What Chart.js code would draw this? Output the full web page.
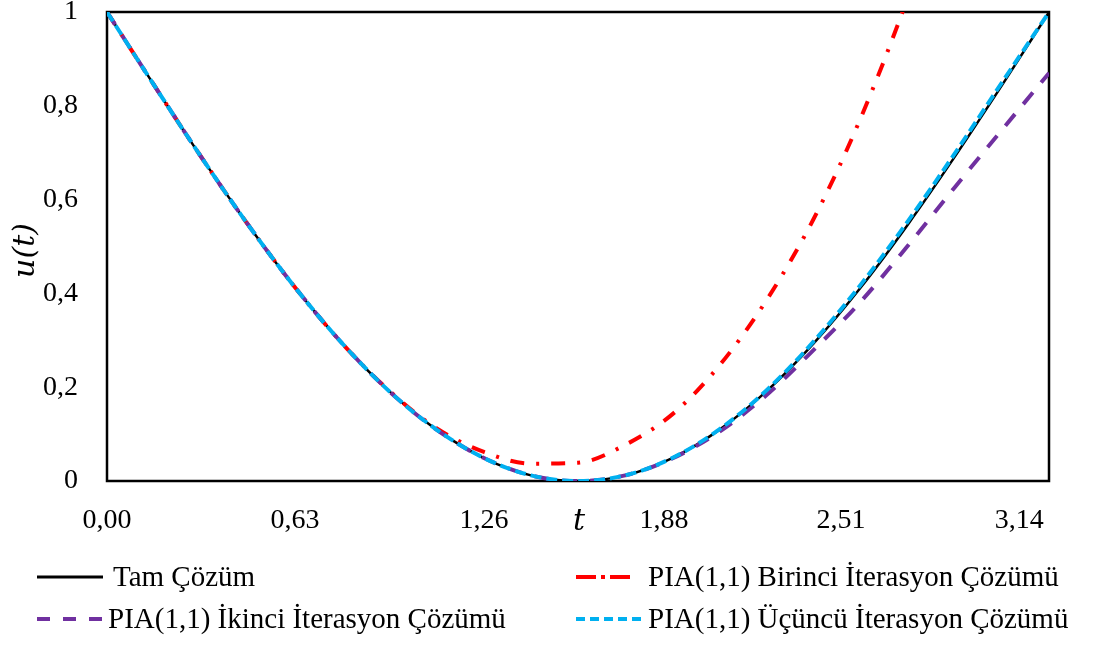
<!DOCTYPE html>
<html>
<head>
<meta charset="utf-8">
<script src="https://cdn.jsdelivr.net/npm/chart.js@4.4.1/dist/chart.umd.min.js"></script>
<style>
  html, body { margin: 0; padding: 0; background: #fff; }
  #wrap { width: 1096px; height: 645px; position: relative; }
</style>
</head>
<body>
<div id="wrap"><canvas id="grafik"></canvas></div>
<script>
// t degerleri (0 .. pi)
const tDegerleri = [0, 0.157, 0.314, 0.471, 0.628, 0.785, 0.942, 1.100, 1.257, 1.414, 1.571,
    1.728, 1.885, 2.042, 2.199, 2.356, 2.513, 2.670, 2.827, 2.985, 3.142];

const tamCozum = [1, 0.844, 0.691, 0.546, 0.412, 0.293, 0.191, 0.109, 0.049, 0.012, 0,
    0.012, 0.049, 0.109, 0.191, 0.293, 0.412, 0.546, 0.691, 0.844, 1];
const birinciIterasyon = [1, 0.844, 0.691, 0.546, 0.412, 0.293, 0.192, 0.112, 0.062, 0.037, 0.039,
    0.077, 0.142, 0.246, 0.385, 0.558, 0.773, 1.03, 1.33, 1.65, 2.0];
const ikinciIterasyon = [1, 0.844, 0.691, 0.546, 0.412, 0.293, 0.191, 0.109, 0.049, 0.012, 0,
    0.012, 0.048, 0.105, 0.183, 0.279, 0.382, 0.501, 0.626, 0.749, 0.870];
const ucuncuIterasyon = [1, 0.844, 0.691, 0.546, 0.412, 0.293, 0.191, 0.109, 0.049, 0.012, 0,
    0.012, 0.049, 0.110, 0.193, 0.297, 0.418, 0.553, 0.698, 0.850, 1];

// eksen etiketleri (resimde gorundukleri yerlerde)
const xEtiketDegerleri = [0, 0.627, 1.257, 1.858, 2.448, 3.042];
const xEtiketleri = ["0,00", "0,63", "1,26", "1,88", "2,51", "3,14"];
const yEtiketDegerleri = [0, 0.2, 0.4, 0.6, 0.8, 1];
const yEtiketleri = ["0", "0,2", "0,4", "0,6", "0,8", "1"];

const seriAdlari = ["Tam Çözüm", "PIA(1,1) Birinci İterasyon Çözümü",
    "PIA(1,1) İkinci İterasyon Çözümü", "PIA(1,1) Üçüncü İterasyon Çözümü"];

function noktalar(seri) {
    return tDegerleri.map(function (t, i) { return { x: t, y: seri[i] }; });
}

const stiller = [
    { renk: "#000000", kalinlik: 2.5, kesik: [], lejantKesik: [], sira: 4 },
    { renk: "#FF0000", kalinlik: 4, kesik: [14, 12, 3, 12], lejantKesik: [20, 5, 4, 5], sira: 3 },
    { renk: "#7030A0", kalinlik: 4, kesik: [15, 13], lejantKesik: [13, 13], sira: 2 },
    { renk: "#00B0F0", kalinlik: 4, kesik: [11, 5], lejantKesik: [9, 5], sira: 1 }
];

const seriler = [tamCozum, birinciIterasyon, ikinciIterasyon, ucuncuIterasyon];

const cerceveVeYazilar = {
    id: "cerceveVeYazilar",
    beforeDatasetsDraw(chart) {
        const ctx = chart.ctx;
        const a = chart.chartArea;
        ctx.save();
        ctx.strokeStyle = "#000";
        ctx.lineWidth = 2.5;
        ctx.strokeRect(a.left, a.top, a.right - a.left, a.bottom - a.top);
        ctx.restore();
    },
    afterDraw(chart) {
        const ctx = chart.ctx;
        const a = chart.chartArea;
        ctx.save();
        // eksen basliklari
        ctx.fillStyle = "#000";
        ctx.font = "italic 30px 'DejaVu Serif'";
        ctx.textAlign = "center";
        ctx.textBaseline = "middle";
        ctx.fillText("t", (a.left + a.right) / 2 + 1, 522);
        ctx.translate(26, (a.top + a.bottom) / 2 + 4);
        ctx.rotate(-Math.PI / 2);
        ctx.fillText("u(t)", 0, 0);
        ctx.restore();

        // lejant
        const yerler = [
            { x1: 37, x2: 103, tx: 113, y: 577 },
            { x1: 576, x2: 632, tx: 648, y: 577 },
            { x1: 37, x2: 103, tx: 108, y: 619 },
            { x1: 576, x2: 643, tx: 648, y: 619 }
        ];
        ctx.save();
        ctx.font = "29px 'Liberation Serif'";
        ctx.textAlign = "left";
        ctx.textBaseline = "middle";
        chart.data.datasets.forEach(function (ds, i) {
            const p = yerler[i];
            ctx.beginPath();
            ctx.strokeStyle = ds.borderColor;
            ctx.lineWidth = i === 0 ? 3 : 4;
            ctx.lineCap = "butt";
            ctx.setLineDash(stiller[i].lejantKesik);
            ctx.moveTo(p.x1, p.y);
            ctx.lineTo(p.x2, p.y);
            ctx.stroke();
            ctx.setLineDash([]);
            ctx.fillStyle = "#000";
            ctx.fillText(ds.label, p.tx, p.y + 1);
        });
        ctx.restore();
    }
};

new Chart(document.getElementById("grafik").getContext("2d"), {
    type: "line",
    data: {
        datasets: seriler.map(function (s, i) {
            return {
                label: seriAdlari[i],
                data: noktalar(s),
                borderColor: stiller[i].renk,
                borderWidth: stiller[i].kalinlik,
                borderDash: stiller[i].kesik,
                order: stiller[i].sira,
                pointRadius: 0,
                fill: false,
                cubicInterpolationMode: "monotone"
            };
        })
    },
    options: {
        responsive: true,
        maintainAspectRatio: false,
        animation: false,
        layout: { padding: { left: 0, right: 47, top: 12, bottom: 0 } },
        plugins: {
            legend: { display: false },
            tooltip: { enabled: false }
        },
        scales: {
            x: {
                type: "linear",
                min: 0,
                max: 3.1416,
                grid: { display: false, drawTicks: false },
                border: { display: false },
                afterBuildTicks: function (scale) {
                    scale.ticks = xEtiketDegerleri.map(function (v) { return { value: v }; });
                },
                afterFit: function (scale) {
                    scale.height = 164;
                    scale.paddingLeft = 0;
                    scale.paddingRight = 0;
                },
                ticks: {
                    autoSkip: false,
                    maxRotation: 0,
                    padding: 23,
                    color: "#000",
                    font: { family: "'Liberation Serif'", size: 28 },
                    callback: function (v, i) { return xEtiketleri[i]; }
                }
            },
            y: {
                min: 0,
                max: 1,
                grid: { display: false, drawTicks: false },
                border: { display: false },
                afterBuildTicks: function (scale) {
                    scale.ticks = yEtiketDegerleri.map(function (v) { return { value: v }; });
                },
                afterFit: function (scale) {
                    scale.width = 107;
                    scale.paddingTop = 0;
                    scale.paddingBottom = 0;
                },
                ticks: {
                    padding: 29,
                    color: "#000",
                    font: { family: "'Liberation Serif'", size: 28 },
                    callback: function (v, i) { return yEtiketleri[i]; }
                }
            }
        }
    },
    plugins: [cerceveVeYazilar]
});
</script>
</body>
</html>
